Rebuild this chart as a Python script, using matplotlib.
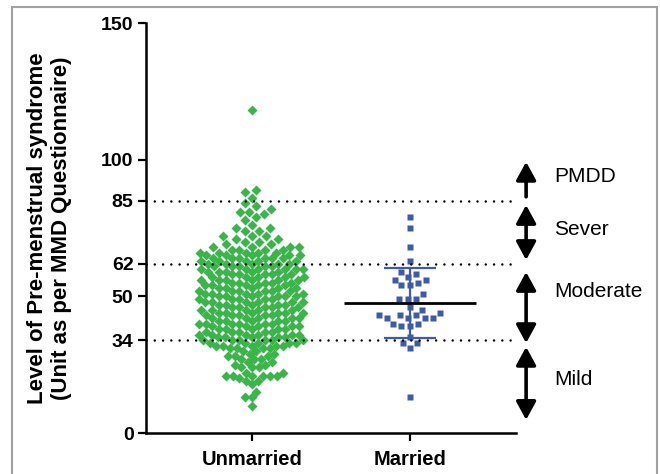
import numpy as np
import matplotlib
matplotlib.use("Agg")
import matplotlib.pyplot as plt
from matplotlib.patches import Rectangle

plt.rcParams['font.family'] = ['Liberation Sans', 'DejaVu Sans']

groups = ['Unmarried', 'Married']

# PMS scores of unmarried women: score and number of dots at that score
unmarried_scores = [118, 89, 88, 86, 84, 83, 82, 81, 80, 79, 78, 76, 75, 74, 72, 71, 70, 69, 68,
                    67, 66, 65, 64, 63, 62, 61, 60, 59, 58, 57, 56, 55, 54, 53, 52, 51, 50,
                    49, 48, 47, 46, 45, 44, 43, 42, 41, 40, 39, 38, 37, 36, 35, 34, 33, 32, 31,
                    30, 29, 28, 27, 26, 25, 24, 22, 21, 20, 19, 18, 15, 13, 10]
unmarried_counts = [1, 1, 1, 1, 1, 1, 1, 2, 1, 1, 1, 1, 2, 2, 3, 2, 2, 2, 4,
                    4, 5, 5, 6, 5, 5, 5, 6, 5, 5, 5, 6, 5, 5, 5, 6, 5, 6,
                    5, 6, 5, 5, 5, 6, 5, 5, 5, 6, 5, 5, 5, 6, 5, 6, 5, 5, 4,
                    2, 2, 3, 3, 2, 2, 3, 2, 6, 1, 2, 1, 1, 2, 1]

# PMS scores of married women
married = [79, 75, 68, 63, 59, 58, 57, 56, 56, 55, 54, 54, 51, 49, 49, 49, 46, 45, 44,
           43, 43, 43, 42, 42, 42, 42, 40, 40, 39, 39, 35, 33, 33, 31, 13]

# severity bands of the MMD questionnaire
band_names = ['PMDD', 'Sever', 'Moderate', 'Mild']
band_cuts = [85, 62, 34]
yticks = [0, 34, 50, 62, 85, 100, 150]

unmarried = np.repeat(unmarried_scores, unmarried_counts)

green = '#3AB54A'
blue = '#3E5AA8'

fig = plt.figure(figsize=(6.6, 4.74), dpi=100)
ax = fig.add_axes([146/660, 41/474, 370/660, 410/474])
ax.set_xlim(0.329, 2.671)
ax.set_ylim(0, 150)

px_per_x = 158.0          # pixels per category step
px_per_y = 410.0 / 150.0  # pixels per score unit


def swarm(vals, dist):
    """greedy beeswarm, returns x offsets in pixels; dist = spacing per point"""
    y = np.asarray(vals, float) * px_per_y
    dist = np.broadcast_to(np.asarray(dist, float), y.shape)
    xs = np.zeros(len(y))
    placed = []
    for i in np.argsort(y, kind='stable'):
        near = []
        for j in placed:
            d = 0.5 * (dist[i] + dist[j])
            if abs(y[j] - y[i]) < d:
                near.append((xs[j], y[j] - y[i], d))
        cands = [0.0]
        for xj, dyj, d in near:
            w = np.sqrt(d**2 - dyj**2)
            cands += [xj - w, xj + w]
        cands.sort(key=lambda c: (abs(c), c))
        for c in cands:
            if all((c - xj)**2 + dyj**2 >= d**2 - 1e-6 for xj, dyj, d in near):
                xs[i] = c
                break
        placed.append(i)
    return xs


# tight packing in the crowded part, looser in the upper tail
d_u = np.where(unmarried >= 68, 9.0, 7.0)
off_u = swarm(unmarried, d_u) / px_per_x
off_m = swarm(married, 8.5) / px_per_x

ax.plot(1 + off_u, unmarried, 'D', color=green, ms=5.6, mec='none', clip_on=False, zorder=3)
ax.plot(2 + off_m, married, 's', color=blue, ms=5.0, mec='none', clip_on=False, zorder=3)

# mean and SD for married
m = np.mean(married)
sd = np.std(married, ddof=1)
ax.errorbar([2], [m], yerr=[sd], fmt='none', ecolor=blue, elinewidth=1.6,
            capsize=19, capthick=1.6, zorder=4)
ax.hlines(m, 2 - 0.415, 2 + 0.415, color='black', lw=2.0, zorder=5)

for c in band_cuts:
    ax.hlines(c, 0.329, 2.65, color='black', lw=1.8, linestyles=(0, (0.01, 3.3)),
              capstyle='round', zorder=6, clip_on=False)

# arrows and band labels to the right
ax_r = 2.735
arrows = [(86.4, 99.2, '-|>'), (83.4, 63.3, '<|-|>'), (58.9, 32.9, '<|-|>'), (31.5, 4.8, '<|-|>')]
label_y = [93.7, 74.6, 51.6, 19.4]
for (y0, y1, st), name, ly in zip(arrows, band_names, label_y):
    ax.annotate('', xy=(ax_r, y1), xytext=(ax_r, y0), annotation_clip=False,
                arrowprops=dict(arrowstyle=st + ',head_length=0.55,head_width=0.3',
                                mutation_scale=20, lw=2.6, color='black',
                                shrinkA=0, shrinkB=0))
    ax.text(2.911, ly, name, fontsize=15, va='center', ha='left', clip_on=False)

for s in ['top', 'right']:
    ax.spines[s].set_visible(False)
for s in ['left', 'bottom']:
    ax.spines[s].set_linewidth(1.8)

ax.set_yticks(yticks)
ax.set_xticks([1, 2])
ax.set_xticklabels(groups)
ax.tick_params(axis='both', width=1.6, length=6)
ax.tick_params(axis='y', pad=3, labelsize=14)
ax.tick_params(axis='x', pad=6, labelsize=14.5)
for t in ax.get_xticklabels() + ax.get_yticklabels():
    t.set_fontweight('bold')

ax.set_ylabel('Level of Pre-menstrual syndrome\n(Unit as per MMD Questionnaire)',
              fontsize=16, fontweight='bold', linespacing=1.2)
ax.yaxis.set_label_coords(-0.2, 0.5)

fig.patches.append(Rectangle((12/660, -0.05), 645/660, 0.985 + 0.05, transform=fig.transFigure,
                             fill=False, edgecolor='#a0a0a0', lw=1.5))

fig.savefig('out.png', dpi=100)
